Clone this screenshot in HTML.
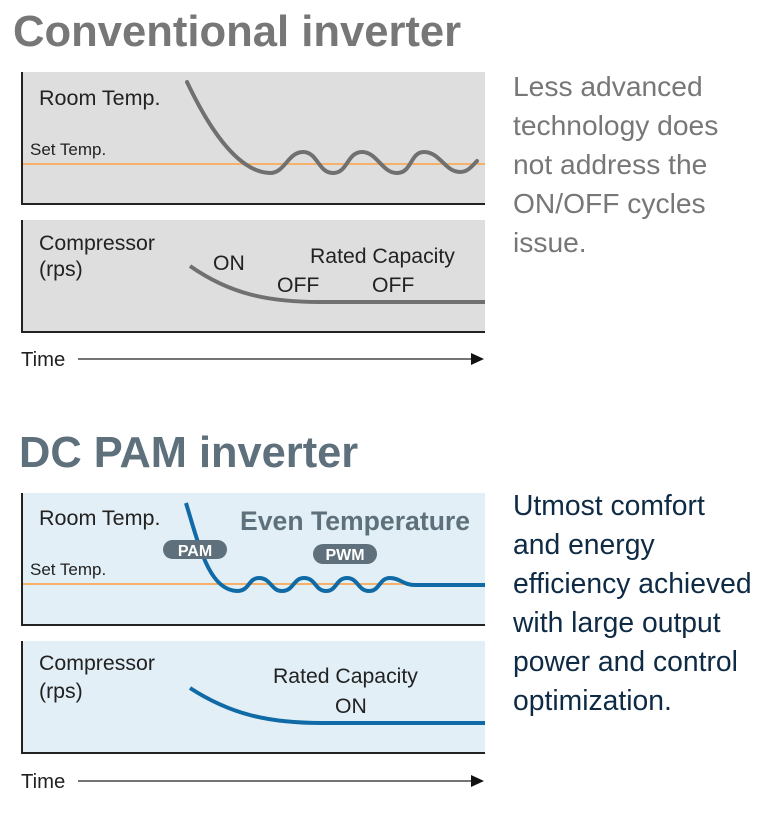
<!DOCTYPE html>
<html>
<head>
<meta charset="utf-8">
<style>
  html, body { margin:0; padding:0; background:#fff; }
  svg { display:block; }
  text { font-family: "Liberation Sans", Arial, sans-serif; }
</style>
</head>
<body>
<svg width="772" height="834" viewBox="0 0 772 834" xmlns="http://www.w3.org/2000/svg">
  <rect x="0" y="0" width="772" height="834" fill="#ffffff"/>

  <!-- Headings -->
  <text x="13" y="46" font-size="43.6" font-weight="bold" fill="#777777">Conventional inverter</text>
  <text x="19" y="467" font-size="43.4" font-weight="bold" fill="#5e707c">DC PAM inverter</text>

  <!-- Panel 1 -->
  <rect x="21" y="72" width="464" height="133" fill="#dedede"/>
  <line x1="22" y1="72" x2="22" y2="205" stroke="#222" stroke-width="2"/>
  <line x1="21" y1="204" x2="485" y2="204" stroke="#222" stroke-width="2"/>
  <line x1="23" y1="164" x2="485" y2="164" stroke="#f5b06a" stroke-width="2"/>
  <text x="39" y="105" font-size="21.5" fill="#222">Room Temp.</text>
  <text x="30" y="155" font-size="17" fill="#222">Set Temp.</text>
  <path d="M187,82 C205,120 235,172 270,173 C285,173 288,152 303,152 C318,152 318,173 333,173 C348,173 347,152 362,152 C377,152 382,173 397,173 C412,173 410,152 424,152 C440,152 445,172 460,172 C468,172 472,166 477,161" fill="none" stroke="#707070" stroke-width="4" stroke-linecap="round"/>

  <!-- Panel 2 -->
  <rect x="21" y="220" width="464" height="113" fill="#dedede"/>
  <line x1="22" y1="220" x2="22" y2="333" stroke="#222" stroke-width="2"/>
  <line x1="21" y1="332" x2="485" y2="332" stroke="#222" stroke-width="2"/>
  <text x="39" y="250" font-size="21.3" fill="#222">Compressor</text>
  <text x="39" y="276" font-size="21.3" fill="#222">(rps)</text>
  <text x="213" y="270" font-size="21.2" fill="#222">ON</text>
  <text x="310" y="263" font-size="21.2" fill="#222">Rated Capacity</text>
  <text x="277" y="292" font-size="21.2" fill="#222">OFF</text>
  <text x="372" y="292" font-size="21.2" fill="#222">OFF</text>
  <path d="M190,266 C230,294 268,302 320,302 L485,302" fill="none" stroke="#707070" stroke-width="4"/>

  <!-- Time arrow 1 -->
  <text x="21" y="366" font-size="20.3" fill="#222">Time</text>
  <line x1="78" y1="359" x2="472" y2="359" stroke="#222" stroke-width="1.2"/>
  <polygon points="471,353 484,359 471,365" fill="#111"/>

  <!-- Right text 1 -->
  <g font-size="28.2" fill="#777777">
    <text x="513" y="96">Less advanced</text>
    <text x="513" y="135">technology does</text>
    <text x="513" y="174">not address the</text>
    <text x="513" y="213">ON/OFF cycles</text>
    <text x="513" y="252">issue.</text>
  </g>

  <!-- Panel 3 -->
  <rect x="21" y="493" width="464" height="133" fill="#e2eff6"/>
  <line x1="22" y1="493" x2="22" y2="626" stroke="#222" stroke-width="2"/>
  <line x1="21" y1="625" x2="485" y2="625" stroke="#222" stroke-width="2"/>
  <line x1="23" y1="584" x2="485" y2="584" stroke="#f5b06a" stroke-width="2"/>
  <text x="39" y="525" font-size="21.5" fill="#222">Room Temp.</text>
  <text x="30" y="575" font-size="17" fill="#222">Set Temp.</text>
  <text x="240" y="530" font-size="26.6" font-weight="bold" fill="#5e707c">Even Temperature</text>
  <path d="M186,503 C200,550 210,590 237,591 C250,591 248,578 259,578 C271,578 271,591 282,591 C294,591 293,578 304,578 C316,578 315,591 326,591 C337,591 336,578 347,578 C358,578 358,591 369,591 C380,591 379,578 390,578 C400,578 403,585 415,585 L485,585" fill="none" stroke="#0f6aa6" stroke-width="4"/>
  <rect x="163" y="540" width="64" height="19" rx="9.5" fill="#5e707c"/>
  <text x="195" y="556" font-size="16" font-weight="bold" fill="#fff" text-anchor="middle">PAM</text>
  <rect x="313" y="544" width="64" height="20" rx="10" fill="#5e707c"/>
  <text x="345" y="560" font-size="16" font-weight="bold" fill="#fff" text-anchor="middle">PWM</text>

  <!-- Panel 4 -->
  <rect x="21" y="641" width="464" height="113" fill="#e2eff6"/>
  <line x1="22" y1="641" x2="22" y2="754" stroke="#222" stroke-width="2"/>
  <line x1="21" y1="753" x2="485" y2="753" stroke="#222" stroke-width="2"/>
  <text x="39" y="670" font-size="21.3" fill="#222">Compressor</text>
  <text x="39" y="698" font-size="21.3" fill="#222">(rps)</text>
  <text x="273" y="683" font-size="21.2" fill="#222">Rated Capacity</text>
  <text x="335" y="713" font-size="21.2" fill="#222">ON</text>
  <path d="M190,688 C230,714 268,723 322,723 L485,723" fill="none" stroke="#0f6aa6" stroke-width="4"/>

  <!-- Time arrow 2 -->
  <text x="21" y="788" font-size="20.3" fill="#222">Time</text>
  <line x1="78" y1="781" x2="472" y2="781" stroke="#222" stroke-width="1.2"/>
  <polygon points="471,775 484,781 471,787" fill="#111"/>

  <!-- Right text 2 -->
  <g font-size="28.3" fill="#0e2a44">
    <text x="513" y="515">Utmost comfort</text>
    <text x="513" y="554">and energy</text>
    <text x="513" y="593">efficiency achieved</text>
    <text x="513" y="632">with large output</text>
    <text x="513" y="671">power and control</text>
    <text x="513" y="710">optimization.</text>
  </g>
</svg>
</body>
</html>
